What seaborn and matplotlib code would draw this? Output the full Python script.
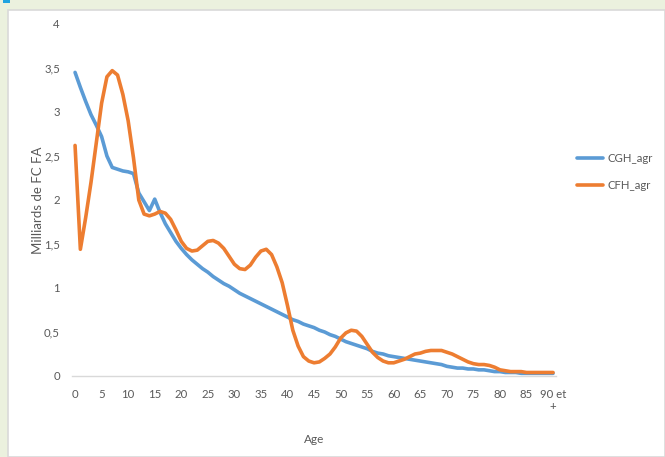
import numpy as np
import pandas as pd
import matplotlib
matplotlib.use("Agg")
import matplotlib.pyplot as plt
import matplotlib.patches as mpatches
import seaborn as sns

# Ages 0 .. 90 et +
ages = list(range(91))
age_ticks = list(range(0, 91, 5))
age_tick_labels = [str(a) for a in range(0, 90, 5)] + ["90 et\n+"]

# Milliards de FC FA par âge
cgh_agr = [
    3.45, 3.28, 3.12, 2.97, 2.85, 2.72, 2.50, 2.37, 2.35, 2.33,
    2.32, 2.30, 2.08, 1.98, 1.88, 2.01, 1.86, 1.73, 1.63, 1.53,
    1.45, 1.38, 1.32, 1.27, 1.22, 1.18, 1.13, 1.09, 1.05, 1.02,
    0.98, 0.94, 0.91, 0.88, 0.85, 0.82, 0.79, 0.76, 0.73, 0.70,
    0.67, 0.64, 0.62, 0.59, 0.57, 0.55, 0.52, 0.50, 0.47, 0.45,
    0.42, 0.39, 0.37, 0.35, 0.33, 0.31, 0.28, 0.26, 0.25, 0.23,
    0.22, 0.21, 0.20, 0.19, 0.18, 0.17, 0.16, 0.15, 0.14, 0.13,
    0.11, 0.10, 0.09, 0.09, 0.08, 0.08, 0.07, 0.07, 0.06, 0.05,
    0.05, 0.04, 0.04, 0.04, 0.03, 0.03, 0.03, 0.03, 0.03, 0.03,
    0.03,
]
cfh_agr = [
    2.62, 1.44, 1.80, 2.20, 2.65, 3.10, 3.40, 3.47, 3.42, 3.20,
    2.90, 2.48, 2.00, 1.84, 1.82, 1.84, 1.87, 1.85, 1.78, 1.66,
    1.53, 1.45, 1.42, 1.43, 1.48, 1.53, 1.54, 1.51, 1.45, 1.36,
    1.27, 1.22, 1.21, 1.26, 1.35, 1.42, 1.44, 1.38, 1.24, 1.06,
    0.80, 0.52, 0.34, 0.22, 0.17, 0.15, 0.16, 0.20, 0.25, 0.33,
    0.43, 0.49, 0.52, 0.51, 0.45, 0.36, 0.27, 0.21, 0.17, 0.15,
    0.15, 0.17, 0.19, 0.22, 0.25, 0.26, 0.28, 0.29, 0.29, 0.29,
    0.27, 0.25, 0.22, 0.19, 0.16, 0.14, 0.13, 0.13, 0.12, 0.10,
    0.07, 0.06, 0.05, 0.05, 0.05, 0.04, 0.04, 0.04, 0.04, 0.04,
    0.04,
]
series_names = ["CGH_agr", "CFH_agr"]
y_ticks = [0, 0.5, 1, 1.5, 2, 2.5, 3, 3.5, 4]
y_tick_labels = ["0", "0,5", "1", "1,5", "2", "2,5", "3", "3,5", "4"]

df = pd.DataFrame({
    "Age": ages * 2,
    "Valeur": cgh_agr + cfh_agr,
    "Série": [series_names[0]] * len(ages) + [series_names[1]] * len(ages),
})

sns.set_theme(style="white")
plt.rcParams["font.family"] = ["Lato", "DejaVu Sans"]

W, H = 665, 457
fig = plt.figure(figsize=(W / 100, H / 100), dpi=100)
fig.patch.set_facecolor("#EBF1DE")

# White chart panel with a thin grey frame, drawn beneath the axes
panel = mpatches.Rectangle((8 / W, 0), 1 - 8 / W, 1 - 10 / H, transform=fig.transFigure,
                           facecolor="white", edgecolor="#D9D9D9", linewidth=1.2, zorder=-10)
fig.patches.append(panel)
marker = mpatches.Rectangle((3 / W, 1 - 3 / H), 7 / W, 3 / H, transform=fig.transFigure,
                            facecolor="#1FA3E0", edgecolor="none", zorder=-9)
fig.patches.append(marker)

left, right = 72.4 / W, 555.7 / W
bottom, top = 1 - 376 / H, 1 - 24 / H
ax = fig.add_axes([left, bottom, right - left, top - bottom])
ax.set_zorder(1)
ax.set_facecolor("none")

palette = {"CGH_agr": "#5B9BD5", "CFH_agr": "#ED7D31"}
sns.lineplot(data=df, x="Age", y="Valeur", hue="Série", palette=palette,
             linewidth=2.6, ax=ax, legend=False)

ax.set_xlim(-0.5, 90.5)
ax.set_ylim(0, 4)
ax.set_xticks(age_ticks)
ax.set_xticklabels(age_tick_labels)
ax.set_yticks(y_ticks)
ax.set_yticklabels(y_tick_labels)

for side in ["top", "right", "left"]:
    ax.spines[side].set_visible(False)
ax.spines["bottom"].set_color("#D9D9D9")
ax.spines["bottom"].set_linewidth(1.0)
ax.tick_params(axis="both", length=0, labelsize=8.2, colors="#595959")
ax.tick_params(axis="x", pad=9)
ax.tick_params(axis="y", pad=9)
ax.grid(False)

ax.set_xlabel("Age", fontsize=8.5, color="#595959", labelpad=15.5)
ax.set_ylabel("Milliards de FC FA", fontsize=9.5, color="#595959", labelpad=0)

handles = [plt.Line2D([], [], color=palette[n], linewidth=2.6) for n in series_names]
fig.legend(handles, series_names, loc="center left",
           bbox_to_anchor=(567 / W, 1 - 172 / H), frameon=False,
           fontsize=8.2, labelcolor="#595959", handlelength=2.3,
           handletextpad=0.35, labelspacing=1.45)

fig.savefig("out.png", dpi=100, facecolor=fig.get_facecolor())
